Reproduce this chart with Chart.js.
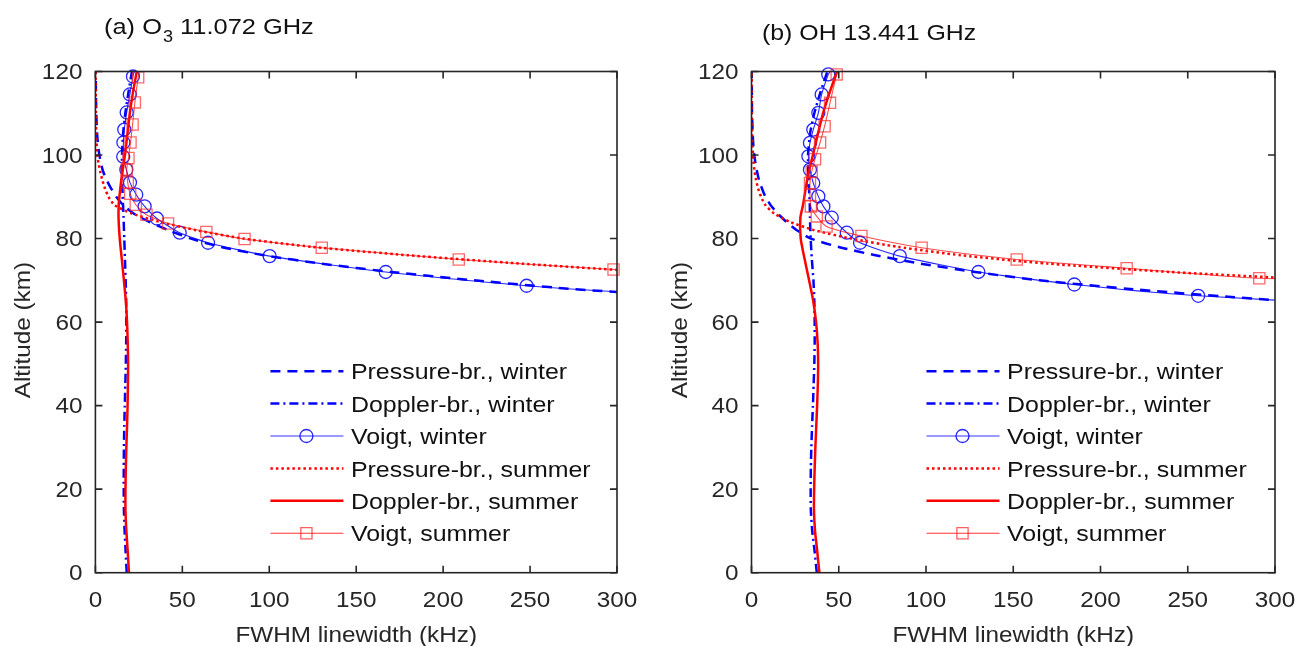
<!DOCTYPE html>
<html><head><meta charset="utf-8">
<script src="https://cdn.jsdelivr.net/npm/chart.js@4.4.1/dist/chart.umd.min.js"></script>
<style>
html,body{margin:0;padding:0;background:#fff;}
#wrap{position:relative;width:1298px;height:646px;overflow:hidden;background:#fff;}
canvas{position:absolute;top:0;}
</style></head><body>
<div id="wrap">
<canvas id="ca" width="649" height="646" style="left:0px"></canvas>
<canvas id="cb" width="649" height="646" style="left:649px"></canvas>
</div>
<script>
// ---------------- data ----------------
const xTicks = [0, 50, 100, 150, 200, 250, 300];
const yTicks = [0, 20, 40, 60, 80, 100, 120];
const legendLabels = ['Pressure-br., winter', 'Doppler-br., winter', 'Voigt, winter',
                      'Pressure-br., summer', 'Doppler-br., summer', 'Voigt, summer'];

// altitude grids (km)
const altDoppler  = [0,5,10,15,20,25,30,35,40,45,50,55,60,65,70,75,80,85,88,90,95,100,105,110,115,120];
const altPressure = [60,62,64,66,68,70,72,74,76,78,80,82,84,86,88,90,92,94,96,98,100,102,105,110,115,120];

// (a) O3 11.072 GHz, linewidths in kHz
const o3DopplerWinter = [18.0,17.4,16.8,16.4,16.3,16.3,16.4,16.6,16.9,17.2,17.5,17.7,17.8,17.7,17.4,17.0,16.6,16.2,15.9,15.7,15.3,15.3,15.9,17.2,19.0,21.0];
const o3DopplerSummer = [19.3,18.6,17.8,17.3,17.3,17.5,17.8,18.2,18.5,18.7,18.8,18.6,18.2,17.5,16.4,15.2,14.0,13.3,13.4,13.8,15.2,17.0,18.4,19.8,21.6,23.8];
const o3PressureWinter = [790,600,455,345,272,218,170,130,97,72,55,42,31,22,16,12,9,6.5,4.5,3.2,2.3,1.6,1.0,0.5,0.3,0.2];
const o3PressureSummer = [1600,1230,940,720,550,420,320,245,180,125,85,58,37,21,11,7.5,5.5,4.0,2.8,1.8,1.1,0.8,0.5,0.3,0.2,0.1];
const o3VoigtWinterAlt = [118.8,114.5,110.2,106.1,103.0,99.6,96.5,93.4,90.5,87.7,84.8,81.4,79.0,75.8,72.0,68.7];
const o3VoigtWinter    = [21.6,19.8,18.0,16.6,16.1,16.0,17.8,19.9,23.5,28.3,35.4,48.5,64.8,100.2,167,248];
const o3VoigtWinterExtAlt = [120, 66, 64, 60];
const o3VoigtWinterExt    = [22.3, 355, 465, 790];
const o3VoigtSummerAlt = [118.6,112.6,107.3,103.0,99.3,96.5,93.4,90.7,88.1,85.7,83.6,81.6,79.9,77.8,75.0,72.6];
const o3VoigtSummer    = [24.6,22.7,21.4,20.2,19.0,18.0,18.6,20.0,23.2,29.4,41.8,63.8,85.8,130.2,209,298];
const o3VoigtSummerExtAlt = [120, 70, 66, 60];
const o3VoigtSummerExt    = [25.3, 425, 725, 1600];

// (b) OH 13.441 GHz, linewidths in kHz
const ohDopplerWinter = [37.4,36.2,34.8,34.0,33.9,34.0,34.3,34.7,35.2,35.6,36.0,36.2,36.2,36.0,35.5,34.6,33.9,33.5,33.4,33.2,32.6,32.4,33.5,36.0,39.5,43.5];
const ohDopplerSummer = [38.9,37.7,36.4,35.8,35.9,36.2,36.6,37.1,37.6,38.0,38.2,37.9,37.0,35.4,33.0,30.5,28.2,28.0,29.5,30.3,32.3,35.2,38.0,41.0,44.8,49.0];
const ohPressureWinter = [530,420,345,275,215,165,128,97,71,50,34,26,20,15,11,8,6,4.3,3.2,2.3,1.6,1.1,0.7,0.3,0.2,0.1];
const ohPressureSummer = [1900,1400,1000,720,480,335,240,170,120,84,57,36,22,13,8,5.5,3.8,2.6,1.8,1.2,0.9,0.6,0.4,0.2,0.15,0.1];
const ohVoigtWinterAlt = [119.3,114.5,110.1,106.1,102.9,99.7,96.5,93.3,90.1,87.7,85.0,81.4,79.0,75.8,72.0,69.0,66.3];
const ohVoigtWinter    = [44.0,40.2,38.3,35.4,33.5,32.6,33.5,35.4,38.3,41.2,46.0,54.6,62.2,85,130,185,256];
const ohVoigtWinterExtAlt = [120, 64, 60];
const ohVoigtWinterExt    = [45, 360, 590];
const ohVoigtSummerAlt = [119.3,112.5,106.9,103.0,99.0,96.0,93.3,90.5,87.7,85.3,82.9,80.6,77.8,75.0,72.9,70.5];
const ohVoigtSummer    = [48.8,45.0,41.9,39.3,36.4,34.5,33.5,33.5,34.0,37.4,43.0,63.0,97.5,152,215,291];
const ohVoigtSummerExtAlt = [120, 68, 64, 60];
const ohVoigtSummerExt    = [49.5, 490, 1010, 1950];

// ---------------- styling ----------------
const BLUE = 'rgb(0,0,255)';
const RED = 'rgb(255,0,0)';
const AXIS = '#262626';
const FONT = '"Liberation Sans", Arial, Helvetica, sans-serif';
const FS = 21.5;      // font size
const SX = 1.13;      // horizontal text stretch (reference text is wide)
const TOP = 71.5, BOTTOM = 572.7, TICKLEN = 7;

function pts(alts, vals) { return alts.map((a, i) => ({ x: vals[i], y: a })); }
function sortedPts(alts, vals) { return pts(alts, vals).sort((p, q) => q.y - p.y); }

function drawText(ctx, text, x, y, align, size, color, sx) {
  const k = sx || SX;
  ctx.save();
  ctx.font = size + 'px ' + FONT;
  ctx.fillStyle = color;
  ctx.textBaseline = 'alphabetic';
  ctx.textAlign = 'left';
  const w = ctx.measureText(text).width * k;
  const x0 = align === 'center' ? x - w / 2 : (align === 'right' ? x - w : x);
  ctx.translate(x0, y);
  ctx.scale(k, 1);
  ctx.fillText(text, 0, 0);
  ctx.restore();
  return w;
}

const styles = [
  { color: BLUE, width: 2.5, dash: [10, 7] },
  { color: BLUE, width: 2.5, dash: [9, 4, 2, 4] },
  { color: BLUE, width: 1.1, dash: [], marker: 'circle' },
  { color: RED, width: 2.5, dash: [2.5, 3] },
  { color: RED, width: 2.5, dash: [] },
  { color: RED, width: 1.1, dash: [], marker: 'rect' }
];

function drawMarker(ctx, kind, x, y, color) {
  ctx.save();
  ctx.strokeStyle = color; ctx.lineWidth = 1.3; ctx.setLineDash([]);
  ctx.beginPath();
  if (kind === 'circle') ctx.arc(x, y, 6.5, 0, Math.PI * 2);
  else ctx.rect(x - 5.6, y - 5.6, 11.2, 11.2);
  ctx.stroke();
  ctx.restore();
}

function makePanel(canvasId, padLeft, padRight, s, title) {
  const datasets = [
    { data: pts(altPressure, s.pw), borderColor: BLUE, borderWidth: 2.5, borderDash: [10, 7] },
    { data: pts(altDoppler, s.dw), borderColor: BLUE, borderWidth: 2.5, borderDash: [9, 4, 2, 4] },
    { data: sortedPts(s.vwAlt.concat(s.vwExtAlt), s.vw.concat(s.vwExt)), borderColor: 'rgba(0,0,255,0.85)', borderWidth: 1.1 },
    { data: pts(s.vwAlt, s.vw), showLine: false, pointRadius: 6.5, pointStyle: 'circle', pointBorderWidth: 1.3,
      pointBorderColor: 'rgba(0,0,255,0.85)', pointBackgroundColor: 'rgba(0,0,0,0)', clip: 10 },
    { data: pts(altPressure, s.ps), borderColor: RED, borderWidth: 2.5, borderDash: [2.5, 3] },
    { data: pts(altDoppler, s.ds), borderColor: RED, borderWidth: 2.5 },
    { data: sortedPts(s.vsAlt.concat(s.vsExtAlt), s.vs.concat(s.vsExt)), borderColor: 'rgba(255,0,0,0.7)', borderWidth: 1.1 },
    { data: pts(s.vsAlt, s.vs), showLine: false, pointRadius: 7.9, pointStyle: 'rect', pointBorderWidth: 1.3,
      pointBorderColor: 'rgba(255,40,40,0.7)', pointBackgroundColor: 'rgba(0,0,0,0)', clip: 10 }
  ];
  datasets.forEach((d, i) => {
    d.order = 20 - i;
    if (d.showLine !== false) { d.showLine = true; d.pointRadius = 0; d.tension = 0.2; d.fill = false; }
  });

  const decor = {
    id: 'decor' + canvasId,
    afterDraw(chart) {
      const { ctx, chartArea: ca, scales: { x, y } } = chart;
      ctx.save();
      ctx.strokeStyle = AXIS; ctx.lineWidth = 1.6; ctx.setLineDash([]);
      ctx.strokeRect(ca.left, ca.top, ca.right - ca.left, ca.bottom - ca.top);
      ctx.beginPath();
      xTicks.forEach(v => {
        const px = x.getPixelForValue(v);
        ctx.moveTo(px, ca.bottom); ctx.lineTo(px, ca.bottom - TICKLEN);
        ctx.moveTo(px, ca.top); ctx.lineTo(px, ca.top + TICKLEN);
      });
      yTicks.forEach(v => {
        const py = y.getPixelForValue(v);
        ctx.moveTo(ca.left, py); ctx.lineTo(ca.left + TICKLEN, py);
        ctx.moveTo(ca.right, py); ctx.lineTo(ca.right - TICKLEN, py);
      });
      ctx.stroke();
      // tick labels
      xTicks.forEach(v => drawText(ctx, String(v), x.getPixelForValue(v), ca.bottom + 34, 'center', FS, AXIS));
      yTicks.forEach(v => drawText(ctx, String(v), ca.left - 13, y.getPixelForValue(v) + 7.6, 'right', FS, AXIS));
      // axis titles
      drawText(ctx, 'FWHM linewidth (kHz)', (ca.left + ca.right) / 2, ca.bottom + 69, 'center', FS, AXIS);
      ctx.save();
      ctx.translate(ca.left - 65, (ca.top + ca.bottom) / 2 + 8);
      ctx.rotate(-Math.PI / 2);
      drawText(ctx, 'Altitude (km)', 0, 0, 'center', FS, AXIS);
      ctx.restore();
      // legend
      const rowY0 = ca.top + 300.2, rowDy = 32.4;
      legendLabels.forEach((lab, i) => {
        const st = styles[i];
        const yy = rowY0 + i * rowDy;
        const x0 = ca.left + 175, x1 = ca.left + 248;
        ctx.save();
        ctx.strokeStyle = st.color; ctx.lineWidth = st.width; ctx.setLineDash(st.dash);
        ctx.globalAlpha = st.marker ? 0.8 : 1;
        ctx.beginPath(); ctx.moveTo(x0, yy - 0.5); ctx.lineTo(x1, yy - 0.5); ctx.stroke();
        ctx.restore();
        if (st.marker) drawMarker(ctx, st.marker, ca.left + 211, yy - 0.5, st.marker === 'rect' ? 'rgba(255,40,40,0.75)' : 'rgba(0,0,255,0.85)');
        drawText(ctx, lab, ca.left + 255.5, yy + 7.6, 'left', FS, '#111', 1.16);
      });
      // panel title
      title(ctx);
      ctx.restore();
    }
  };

  return new Chart(document.getElementById(canvasId), {
    type: 'scatter',
    data: { datasets },
    options: {
      responsive: false, animation: false, events: [],
      layout: { padding: { left: 0, right: padRight, top: TOP, bottom: 0 } },
      plugins: { legend: { display: false }, tooltip: { enabled: false }, title: { display: false } },
      scales: {
        x: { type: 'linear', min: 0, max: 300, grid: { display: false }, border: { display: false },
             ticks: { display: false }, afterFit: sc => { sc.height = 646 - BOTTOM; } },
        y: { type: 'linear', min: 0, max: 120, grid: { display: false }, border: { display: false },
             ticks: { display: false }, afterFit: sc => { sc.width = padLeft; } }
      }
    },
    plugins: [decor]
  });
}

makePanel('ca', 95.4, 649 - 617, {
  pw: o3PressureWinter, dw: o3DopplerWinter, ps: o3PressureSummer, ds: o3DopplerSummer,
  vwAlt: o3VoigtWinterAlt, vw: o3VoigtWinter, vwExtAlt: o3VoigtWinterExtAlt, vwExt: o3VoigtWinterExt,
  vsAlt: o3VoigtSummerAlt, vs: o3VoigtSummer, vsExtAlt: o3VoigtSummerExtAlt, vsExt: o3VoigtSummerExt
}, ctx => {
  let x = 104;
  x += drawText(ctx, '(a) O', x, 34.3, 'left', 22.5, '#111');
  x += drawText(ctx, '3', x + 1, 41.5, 'left', 16, '#111') + 1;
  drawText(ctx, ' 11.072 GHz', x, 34.3, 'left', 22.5, '#111');
});

makePanel('cb', 751.5 - 649, 649 - (1275 - 649), {
  pw: ohPressureWinter, dw: ohDopplerWinter, ps: ohPressureSummer, ds: ohDopplerSummer,
  vwAlt: ohVoigtWinterAlt, vw: ohVoigtWinter, vwExtAlt: ohVoigtWinterExtAlt, vwExt: ohVoigtWinterExt,
  vsAlt: ohVoigtSummerAlt, vs: ohVoigtSummer, vsExtAlt: ohVoigtSummerExtAlt, vsExt: ohVoigtSummerExt
}, ctx => {
  drawText(ctx, '(b) OH 13.441 GHz', 762 - 649, 40, 'left', 22, '#111');
});
</script>
</body></html>
